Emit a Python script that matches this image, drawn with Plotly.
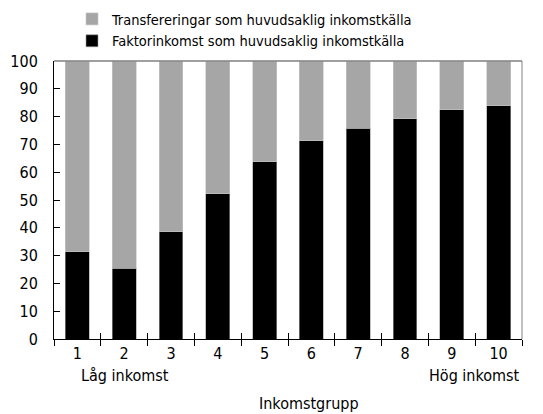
import plotly.graph_objects as go

categories = ["1", "2", "3", "4", "5", "6", "7", "8", "9", "10"]
faktor = [31.4, 25.4, 38.5, 52.2, 63.7, 71.4, 75.8, 79.2, 82.4, 83.9]
transfer = [round(100 - v, 1) for v in faktor]
y_ticks = [0, 10, 20, 30, 40, 50, 60, 70, 80, 90, 100]

FONT = "Liberation Sans Narrow, Arial Narrow, DejaVu Sans Condensed, sans-serif"

fig = go.Figure()
fig.add_trace(go.Bar(x=categories, y=faktor, name="Faktorinkomst som huvudsaklig inkomstkälla",
                     marker=dict(color="#000000", line=dict(color="#9a9a9a", width=0.6)),
                     width=0.51))
fig.add_trace(go.Bar(x=categories, y=transfer, name="Transfereringar som huvudsaklig inkomstkälla",
                     marker=dict(color="#a6a6a6", line=dict(color="#c8c8c8", width=0.6)),
                     width=0.51))
# invisible helper trace for inside tick marks on bottom axis
fig.add_trace(go.Scatter(x=categories, y=faktor, xaxis="x2", mode="markers",
                         marker=dict(opacity=0), showlegend=False, hoverinfo="skip"))

PW, PH = 468, 278

fig.update_layout(
    width=543, height=414,
    margin=dict(l=54, r=21, t=61, b=75, autoexpand=False),
    barmode="stack",
    bargap=0.49,
    plot_bgcolor="white", paper_bgcolor="white",
    font=dict(family=FONT, size=16, color="#000000"),
    showlegend=True,
    legend=dict(x=(72 - 54) / PW, y=1 + (61 - 3) / PH, xanchor="left", yanchor="top",
                traceorder="reversed", font=dict(size=14.5), itemwidth=30, tracegroupgap=0,
                bgcolor="rgba(0,0,0,0)"),
    xaxis=dict(type="category", showline=True, linecolor="#000000", linewidth=1,
               ticks="outside", ticklen=6, tickcolor="#000000", tickson="boundaries",
               showgrid=False, range=[-0.5, 9.5], tickfont=dict(size=16), automargin=False),
    xaxis2=dict(type="category", overlaying="x", side="bottom", matches="x",
                ticks="inside", ticklen=6, tickcolor="#000000", tickson="boundaries",
                showticklabels=False, showgrid=False, showline=False, automargin=False),
    yaxis=dict(range=[0, 100], tickvals=y_ticks, showline=True, linecolor="#000000",
               linewidth=1, ticks="inside", ticklen=6, tickcolor="#000000",
               showgrid=False, ticklabelstandoff=12, tickfont=dict(size=16), automargin=False),
    shapes=[
        dict(type="line", xref="paper", yref="paper", x0=0, x1=1, y0=1, y1=1,
             line=dict(color="#808080", width=1.5)),
        dict(type="line", xref="paper", yref="paper", x0=1, x1=1, y0=0, y1=1,
             line=dict(color="#808080", width=1)),
    ],
    annotations=[
        dict(text="Låg inkomst", xref="paper", yref="paper", x=(125 - 54) / PW, y=-36 / PH,
             xanchor="center", yanchor="middle", showarrow=False, font=dict(size=16)),
        dict(text="Hög inkomst", xref="paper", yref="paper", x=1.0, y=-36 / PH,
             xanchor="right", yanchor="middle", showarrow=False, font=dict(size=16)),
        dict(text="Inkomstgrupp", xref="paper", yref="paper", x=(309 - 54) / PW, y=-64 / PH,
             xanchor="center", yanchor="middle", showarrow=False, font=dict(size=16)),
    ],
)

fig.write_html("out.html", config={"displayModeBar": False},
               post_script="document.body.style.margin='0px';")
